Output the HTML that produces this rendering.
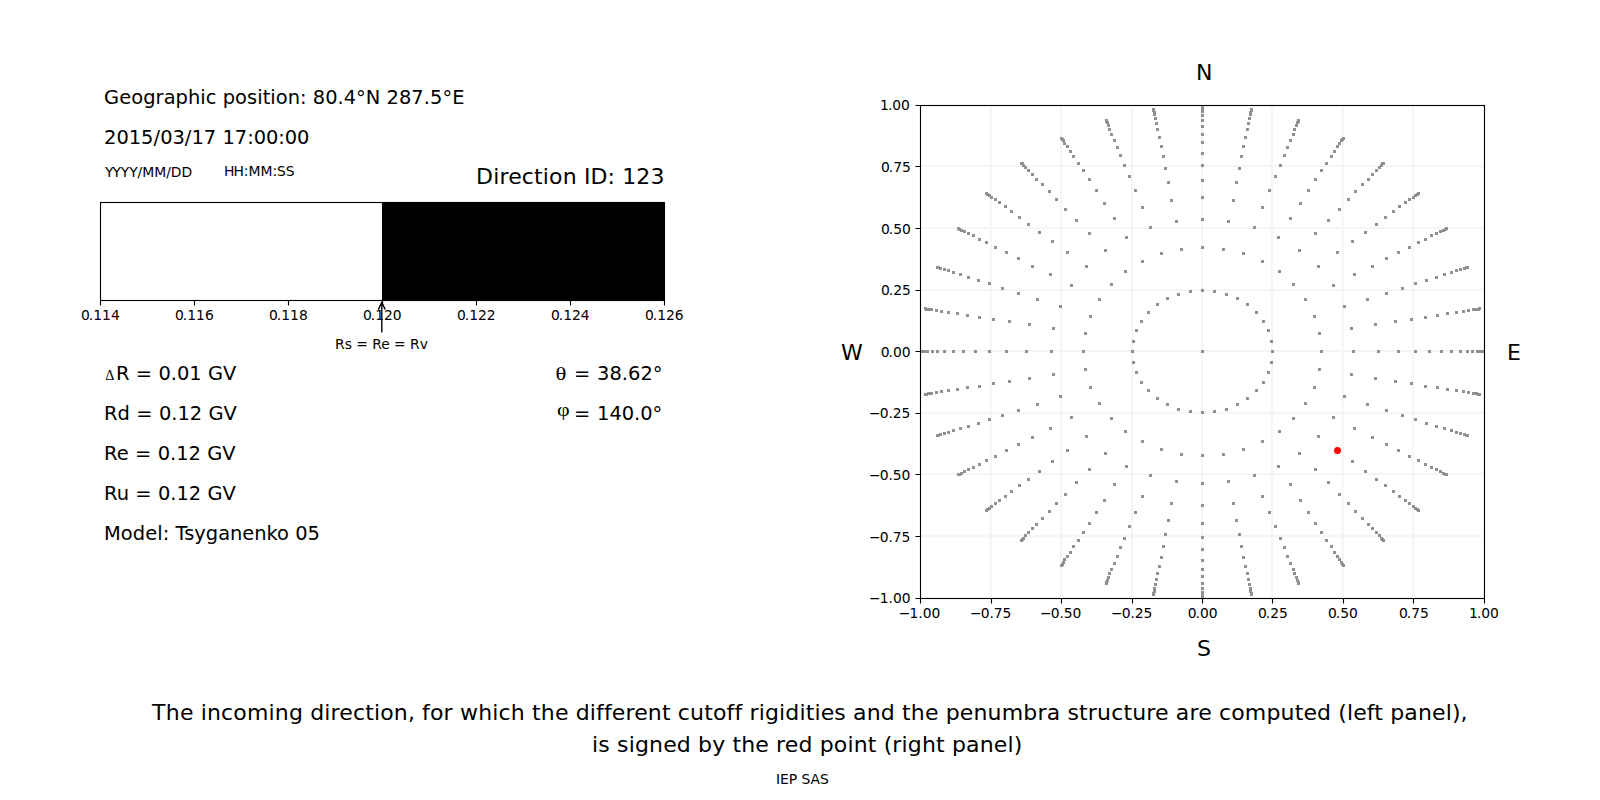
<!DOCTYPE html>
<html lang="en"><head><meta charset="utf-8"><title>Cutoff rigidity – incoming direction</title>
<style>html,body{margin:0;padding:0;background:#fff}body{width:1600px;height:800px;overflow:hidden}svg{display:block}text{font-family:"DejaVu Sans","Liberation Sans",sans-serif;fill:#000;white-space:pre;font-variant-ligatures:none;font-kerning:none}.s10{font-size:13.889px}.s14{font-size:19.444px}.s16{font-size:22px}.gr{font-family:"Liberation Serif","DejaVu Serif",serif}</style></head><body>
<svg width="1600" height="800" viewBox="0 0 1600 800">
<rect width="1600" height="800" fill="#fff"/>
<g id="header">
<text class="s14" y="104 104 104 104 104 104 104 104 104 104 104 104 104 104 104 104 104 104 104 104 104 104 104 104 104 105 104 104 104 104 104 104 104 105 104" x="104 119.125 131.125 143.125 155.5 163.625 175.5 187.875 200.125 205.625 216.375 222.625 235 247 257.125 262.625 270.25 275.75 287.75 300 306.5 312.75 325.125 337.375 343.625 356 365.75 380.25 386.5 398.875 411.25 423.625 429.875 442.375 452.125">Geographic position: 80.4°N 287.5°E</text>
<text class="s14" y="144" x="104 116.375 128.625 141 153.5 160.125 172.375 184.75 191.375 203.75 216.125 222.375 234.75 247.125 253.625 265.875 278.125 284.625 296.875">2015/03/17 17:00:00</text>
<text class="s10" y="177" x="105 112.375 120.75 129.125 137.5 142.125 154.125 166.125 170.75 181.5">YYYY/MM/DD</text>
<text class="s10" y="176" x="224 233.375 243.75 248.375 260.375 272.375 277 285.75">HH:MM:SS</text>
<text class="s16" y="184" x="476 493.125 499.375 508.125 521.75 534 542.75 549 562.625 576.75 583.875 590.375 607.5 615 622.125 636.25 650.375">Direction ID: 123</text>
</g>
<g id="penumbra">
<path fill="#f1f1f1" shape-rendering="crispEdges" d="M100 201h565v1h-565zM101 203h281v1h-281zM101 299h281v1h-281zM100 301h565v1h-565z"/>
<rect x="382" y="202" width="282.5" height="98.5" fill="#000" shape-rendering="crispEdges"/>
<path d="M100.5 202.5H664.5V300.5H100.5Z" fill="none" stroke="#000" stroke-width="1.11"/>
<path d="M100.5 301v4.5M194.5 301v4.5M288.5 301v4.5M382.5 301v4.5M476.5 301v4.5M570.5 301v4.5M664.5 301v4.5" stroke="#000" stroke-width="1.11" fill="none"/>
</g>
<g id="penumbra-labels">
<text class="s10" y="320" x="81 88.75 93.125 102 110.875">0.114</text>
<text class="s10" y="320" x="175 182.75 187.125 196 204.875">0.116</text>
<text class="s10" y="320" x="269 276.75 281.125 290 298.875">0.118</text>
<text class="s10" y="320" x="363 370.75 375.125 384 392.75">0.120</text>
<text class="s10" y="320" x="457 464.75 469.125 478 486.75">0.122</text>
<text class="s10" y="320" x="551 558.75 563.125 572 580.75">0.124</text>
<text class="s10" y="320" x="645 652.75 657.125 666 674.75">0.126</text>
</g>
<g id="arrow" fill="none" stroke="#000" stroke-width="1.39" stroke-linecap="round" stroke-linejoin="round">
<path d="M381.8 331.9V302.4"/><path d="M378.6 309.1L381.8 302.2L385 309.1"/>
</g>
<text class="s10" y="349" x="335 344.625 351.75 356.125 367.75 372.125 381.125 389.625 394 405.625 410 419.625">Rs = Re = Rv</text>
<g id="params">
<text class="gr" transform="translate(105.3 380) scale(1.06 1.13)" font-size="13.4px">Δ</text>
<text class="s14" y="380" x="116 129.5 135.75 152.25 158.5 170.75 177 189.25 201.625 207.875 223">R = 0.01 GV</text>
<text class="s14" y="420" x="104 117.5 129.875 136.125 152.625 158.875 171.125 177.375 189.75 202.125 208.375 223.5">Rd = 0.12 GV</text>
<text class="s14" y="460" x="104 116.625 128.625 134.875 151.375 157.625 169.875 176.125 188.5 200.875 207.125 222.25">Re = 0.12 GV</text>
<text class="s14" y="500" x="104 116.625 128.875 135.125 151.625 157.875 170.125 176.375 188.75 201.125 207.375 222.5">Ru = 0.12 GV</text>
<text class="s14" y="540" x="104 120.75 132.75 145.125 157.125 162.625 169.125 175.375 184.125 194.25 205.75 218.125 230 242.25 254.25 266.5 277 289 295.25 307.5">Model: Tsyganenko 05</text>
<text class="gr" transform="translate(555.5 380) scale(1.17 1)" font-size="19.444px">θ</text>
<text class="s14" y="380 380 380 380 380 380 380 381" x="574 590.75 597 609.375 621.75 628 640.375 652.75">= 38.62°</text>
<text class="gr" transform="translate(556.9 415.8) scale(1.13 1)" font-size="19.444px">φ</text>
<text class="s14" y="420 420 420 420 420 420 420 421" x="574 590.75 597 609.375 621.75 634 640.25 652.5">= 140.0°</text>
</g>
<g id="caption">
<text class="s16" y="720" x="152 165.75 179.875 193.5 200.625 206.875 221 233.25 246.875 268.5 274.75 288.875 303 310.125 324.25 330.5 339.25 352.875 365.125 373.875 380.125 393.75 407.875 414.875 422 429.875 443.5 452.75 459.875 478.125 492.25 498.5 510.75 524.875 532 540.75 554.875 568.5 575.625 589.75 596 603.875 611.75 625.375 634.125 647.75 661.875 670.625 677.75 690 704.125 712.875 726.5 734.375 742.25 749.375 758.625 764.875 779 785.25 799.375 805.625 814.375 820.625 834.25 845.875 853 866.625 880.75 894.875 902 910.75 924.875 938.5 945.625 959.75 973.375 987.5 1001.625 1023.25 1037.375 1046.625 1060.25 1067.375 1079 1087.75 1097 1111.125 1123.375 1132.125 1146.25 1155 1168.625 1175.75 1189.375 1198.125 1211.75 1218.875 1231.125 1244.75 1266.375 1280.5 1294.625 1303.375 1317 1331.125 1338.25 1346.875 1353.125 1366.75 1374.25 1383 1390.125 1404.25 1417.875 1432 1445.625 1451.875 1460.5">The incoming direction, for which the different cutoff rigidities and the penumbra structure are computed (left panel),</text>
<text class="s16" y="752" x="592 598.25 609.875 617 628.625 634.875 649 663.125 676.75 690.875 698 712.125 725.25 732.375 741.125 755.25 768.875 776 784.75 798.375 812.5 819.625 833.75 847.375 853.625 867.75 876.5 883.625 892.25 901.5 907.75 921.875 936 944.75 951.875 966 979.625 993.75 1007.375 1013.625">is signed by the red point (right panel)</text>
<text class="s10" y="784" x="776 780 788.75 797.125 801.5 810.5 820">IEP SAS</text>
</g>
<g id="sky" shape-rendering="crispEdges">
<path fill="#f1f1f1" d="M920 104h565v1h-565zM921 106h563v1h-563zM921 597h563v1h-563zM920 599h565v1h-565z"/>
<path id="grid" fill="#f5f5f5" d="M990 106h2v492h-2zM1060 106h2v492h-2zM1131 106h2v492h-2zM1201 106h2v492h-2zM1271 106h2v492h-2zM1342 106h2v492h-2zM1412 106h2v492h-2zM921 165h563v2h-563zM921 227h563v2h-563zM921 289h563v2h-563zM921 350h563v2h-563zM921 412h563v2h-563zM921 473h563v2h-563zM921 535h563v2h-563z"/>
<clipPath id="c"><rect x="920" y="105" width="565" height="494"/></clipPath>
<path id="directions" clip-path="url(#c)" fill="#909090" d="M1201 350h3v3h-3zM1131 350h3v3h-3zM1132 361h3v3h-3zM1135 371h3v3h-3zM1140 381h3v3h-3zM1147 389h3v3h-3zM1156 397h3v3h-3zM1166 403h3v3h-3zM1177 408h3v3h-3zM1189 410h3v3h-3zM1201 411h3v3h-3zM1213 410h3v3h-3zM1225 408h3v3h-3zM1236 403h3v3h-3zM1246 397h3v3h-3zM1255 389h3v3h-3zM1262 381h3v3h-3zM1267 371h3v3h-3zM1270 361h3v3h-3zM1271 350h3v3h-3zM1270 340h3v3h-3zM1267 329h3v3h-3zM1262 320h3v3h-3zM1255 311h3v3h-3zM1246 303h3v3h-3zM1236 297h3v3h-3zM1225 293h3v3h-3zM1213 290h3v3h-3zM1201 289h3v3h-3zM1189 290h3v3h-3zM1177 293h3v3h-3zM1166 297h3v3h-3zM1156 303h3v3h-3zM1147 311h3v3h-3zM1140 320h3v3h-3zM1135 329h3v3h-3zM1132 340h3v3h-3zM1082 350h3v3h-3zM1084 368h3v3h-3zM1089 386h3v3h-3zM1098 402h3v3h-3zM1110 417h3v3h-3zM1124 430h3v3h-3zM1141 440h3v3h-3zM1160 448h3v3h-3zM1180 453h3v3h-3zM1201 454h3v3h-3zM1222 453h3v3h-3zM1242 448h3v3h-3zM1261 440h3v3h-3zM1278 430h3v3h-3zM1292 417h3v3h-3zM1304 402h3v3h-3zM1313 386h3v3h-3zM1318 368h3v3h-3zM1320 350h3v3h-3zM1318 332h3v3h-3zM1313 315h3v3h-3zM1304 298h3v3h-3zM1292 283h3v3h-3zM1278 270h3v3h-3zM1261 260h3v3h-3zM1242 252h3v3h-3zM1222 248h3v3h-3zM1201 246h3v3h-3zM1180 248h3v3h-3zM1160 252h3v3h-3zM1141 260h3v3h-3zM1124 270h3v3h-3zM1110 283h3v3h-3zM1098 298h3v3h-3zM1089 315h3v3h-3zM1084 332h3v3h-3zM1050 350h3v3h-3zM1052 373h3v3h-3zM1059 395h3v3h-3zM1070 416h3v3h-3zM1085 435h3v3h-3zM1104 452h3v3h-3zM1125 465h3v3h-3zM1149 474h3v3h-3zM1175 480h3v3h-3zM1201 482h3v3h-3zM1227 480h3v3h-3zM1253 474h3v3h-3zM1277 465h3v3h-3zM1298 452h3v3h-3zM1317 435h3v3h-3zM1332 416h3v3h-3zM1343 395h3v3h-3zM1350 373h3v3h-3zM1352 350h3v3h-3zM1350 327h3v3h-3zM1343 305h3v3h-3zM1332 284h3v3h-3zM1317 265h3v3h-3zM1298 249h3v3h-3zM1277 236h3v3h-3zM1253 226h3v3h-3zM1227 220h3v3h-3zM1201 218h3v3h-3zM1175 220h3v3h-3zM1149 226h3v3h-3zM1125 236h3v3h-3zM1104 249h3v3h-3zM1085 265h3v3h-3zM1070 284h3v3h-3zM1059 305h3v3h-3zM1052 327h3v3h-3zM1025 350h3v3h-3zM1028 377h3v3h-3zM1036 403h3v3h-3zM1049 427h3v3h-3zM1066 449h3v3h-3zM1088 468h3v3h-3zM1113 483h3v3h-3zM1141 495h3v3h-3zM1170 502h3v3h-3zM1201 504h3v3h-3zM1232 502h3v3h-3zM1261 495h3v3h-3zM1289 483h3v3h-3zM1314 468h3v3h-3zM1336 449h3v3h-3zM1353 427h3v3h-3zM1366 403h3v3h-3zM1374 377h3v3h-3zM1377 350h3v3h-3zM1374 323h3v3h-3zM1366 298h3v3h-3zM1353 273h3v3h-3zM1336 251h3v3h-3zM1314 232h3v3h-3zM1289 217h3v3h-3zM1261 206h3v3h-3zM1232 199h3v3h-3zM1201 196h3v3h-3zM1170 199h3v3h-3zM1141 206h3v3h-3zM1113 217h3v3h-3zM1088 232h3v3h-3zM1066 251h3v3h-3zM1049 273h3v3h-3zM1036 298h3v3h-3zM1028 323h3v3h-3zM1005 350h3v3h-3zM1008 380h3v3h-3zM1017 409h3v3h-3zM1031 436h3v3h-3zM1051 460h3v3h-3zM1075 481h3v3h-3zM1103 499h3v3h-3zM1134 511h3v3h-3zM1167 519h3v3h-3zM1201 522h3v3h-3zM1235 519h3v3h-3zM1268 511h3v3h-3zM1299 499h3v3h-3zM1327 481h3v3h-3zM1351 460h3v3h-3zM1371 436h3v3h-3zM1385 409h3v3h-3zM1394 380h3v3h-3zM1397 350h3v3h-3zM1394 320h3v3h-3zM1385 292h3v3h-3zM1371 265h3v3h-3zM1351 240h3v3h-3zM1327 219h3v3h-3zM1299 202h3v3h-3zM1268 189h3v3h-3zM1235 181h3v3h-3zM1201 179h3v3h-3zM1167 181h3v3h-3zM1134 189h3v3h-3zM1103 202h3v3h-3zM1075 219h3v3h-3zM1051 240h3v3h-3zM1031 265h3v3h-3zM1017 292h3v3h-3zM1008 320h3v3h-3zM988 350h3v3h-3zM992 382h3v3h-3zM1001 414h3v3h-3zM1017 443h3v3h-3zM1038 470h3v3h-3zM1064 493h3v3h-3zM1095 511h3v3h-3zM1128 525h3v3h-3zM1164 533h3v3h-3zM1201 536h3v3h-3zM1238 533h3v3h-3zM1274 525h3v3h-3zM1307 511h3v3h-3zM1338 493h3v3h-3zM1364 470h3v3h-3zM1385 443h3v3h-3zM1401 414h3v3h-3zM1410 382h3v3h-3zM1414 350h3v3h-3zM1410 318h3v3h-3zM1401 287h3v3h-3zM1385 257h3v3h-3zM1364 231h3v3h-3zM1338 208h3v3h-3zM1307 189h3v3h-3zM1274 175h3v3h-3zM1238 167h3v3h-3zM1201 164h3v3h-3zM1164 167h3v3h-3zM1128 175h3v3h-3zM1095 189h3v3h-3zM1064 208h3v3h-3zM1038 231h3v3h-3zM1017 257h3v3h-3zM1001 287h3v3h-3zM992 318h3v3h-3zM974 350h3v3h-3zM978 385h3v3h-3zM988 418h3v3h-3zM1005 449h3v3h-3zM1027 478h3v3h-3zM1055 502h3v3h-3zM1088 522h3v3h-3zM1123 537h3v3h-3zM1162 545h3v3h-3zM1201 548h3v3h-3zM1240 545h3v3h-3zM1279 537h3v3h-3zM1314 522h3v3h-3zM1347 502h3v3h-3zM1375 478h3v3h-3zM1397 449h3v3h-3zM1414 418h3v3h-3zM1424 385h3v3h-3zM1428 350h3v3h-3zM1424 316h3v3h-3zM1414 282h3v3h-3zM1397 251h3v3h-3zM1375 223h3v3h-3zM1347 198h3v3h-3zM1314 178h3v3h-3zM1279 164h3v3h-3zM1240 155h3v3h-3zM1201 152h3v3h-3zM1162 155h3v3h-3zM1123 164h3v3h-3zM1088 178h3v3h-3zM1055 198h3v3h-3zM1027 223h3v3h-3zM1005 251h3v3h-3zM988 282h3v3h-3zM978 316h3v3h-3zM962 350h3v3h-3zM966 386h3v3h-3zM977 422h3v3h-3zM994 455h3v3h-3zM1018 484h3v3h-3zM1048 510h3v3h-3zM1082 531h3v3h-3zM1119 546h3v3h-3zM1160 556h3v3h-3zM1201 559h3v3h-3zM1242 556h3v3h-3zM1283 546h3v3h-3zM1320 531h3v3h-3zM1354 510h3v3h-3zM1384 484h3v3h-3zM1408 455h3v3h-3zM1425 422h3v3h-3zM1436 386h3v3h-3zM1440 350h3v3h-3zM1436 314h3v3h-3zM1425 279h3v3h-3zM1408 246h3v3h-3zM1384 216h3v3h-3zM1354 190h3v3h-3zM1320 169h3v3h-3zM1283 154h3v3h-3zM1242 145h3v3h-3zM1201 141h3v3h-3zM1160 145h3v3h-3zM1119 154h3v3h-3zM1082 169h3v3h-3zM1048 190h3v3h-3zM1018 216h3v3h-3zM994 246h3v3h-3zM977 279h3v3h-3zM966 314h3v3h-3zM952 350h3v3h-3zM956 388h3v3h-3zM967 425h3v3h-3zM985 459h3v3h-3zM1010 490h3v3h-3zM1041 517h3v3h-3zM1077 539h3v3h-3zM1116 555h3v3h-3zM1158 565h3v3h-3zM1201 568h3v3h-3zM1244 565h3v3h-3zM1286 555h3v3h-3zM1325 539h3v3h-3zM1361 517h3v3h-3zM1392 490h3v3h-3zM1417 459h3v3h-3zM1435 425h3v3h-3zM1446 388h3v3h-3zM1450 350h3v3h-3zM1446 312h3v3h-3zM1435 276h3v3h-3zM1417 241h3v3h-3zM1392 210h3v3h-3zM1361 183h3v3h-3zM1325 162h3v3h-3zM1286 146h3v3h-3zM1244 136h3v3h-3zM1201 133h3v3h-3zM1158 136h3v3h-3zM1116 146h3v3h-3zM1077 162h3v3h-3zM1041 183h3v3h-3zM1010 210h3v3h-3zM985 241h3v3h-3zM967 276h3v3h-3zM956 312h3v3h-3zM943 350h3v3h-3zM947 389h3v3h-3zM959 427h3v3h-3zM978 463h3v3h-3zM1004 495h3v3h-3zM1035 523h3v3h-3zM1072 545h3v3h-3zM1113 562h3v3h-3zM1156 572h3v3h-3zM1201 575h3v3h-3zM1246 572h3v3h-3zM1289 562h3v3h-3zM1330 545h3v3h-3zM1367 523h3v3h-3zM1398 495h3v3h-3zM1424 463h3v3h-3zM1443 427h3v3h-3zM1455 389h3v3h-3zM1459 350h3v3h-3zM1455 311h3v3h-3zM1443 273h3v3h-3zM1424 238h3v3h-3zM1398 205h3v3h-3zM1367 178h3v3h-3zM1330 155h3v3h-3zM1289 139h3v3h-3zM1246 128h3v3h-3zM1201 125h3v3h-3zM1156 128h3v3h-3zM1113 139h3v3h-3zM1072 155h3v3h-3zM1035 178h3v3h-3zM1004 205h3v3h-3zM978 238h3v3h-3zM959 273h3v3h-3zM947 311h3v3h-3zM936 350h3v3h-3zM940 390h3v3h-3zM952 429h3v3h-3zM972 466h3v3h-3zM998 499h3v3h-3zM1031 527h3v3h-3zM1069 551h3v3h-3zM1110 568h3v3h-3zM1155 578h3v3h-3zM1201 582h3v3h-3zM1247 578h3v3h-3zM1292 568h3v3h-3zM1333 551h3v3h-3zM1371 527h3v3h-3zM1404 499h3v3h-3zM1430 466h3v3h-3zM1450 429h3v3h-3zM1462 390h3v3h-3zM1466 350h3v3h-3zM1462 310h3v3h-3zM1450 271h3v3h-3zM1430 234h3v3h-3zM1404 201h3v3h-3zM1371 173h3v3h-3zM1333 150h3v3h-3zM1292 133h3v3h-3zM1247 122h3v3h-3zM1201 119h3v3h-3zM1155 122h3v3h-3zM1110 133h3v3h-3zM1069 150h3v3h-3zM1031 173h3v3h-3zM998 201h3v3h-3zM972 234h3v3h-3zM952 271h3v3h-3zM940 310h3v3h-3zM931 350h3v3h-3zM935 391h3v3h-3zM947 431h3v3h-3zM967 468h3v3h-3zM994 502h3v3h-3zM1027 531h3v3h-3zM1066 555h3v3h-3zM1108 572h3v3h-3zM1154 583h3v3h-3zM1201 587h3v3h-3zM1248 583h3v3h-3zM1293 572h3v3h-3zM1336 555h3v3h-3zM1375 531h3v3h-3zM1408 502h3v3h-3zM1435 468h3v3h-3zM1455 431h3v3h-3zM1467 391h3v3h-3zM1471 350h3v3h-3zM1467 309h3v3h-3zM1455 269h3v3h-3zM1435 232h3v3h-3zM1408 198h3v3h-3zM1375 169h3v3h-3zM1336 145h3v3h-3zM1293 128h3v3h-3zM1248 117h3v3h-3zM1201 114h3v3h-3zM1154 117h3v3h-3zM1108 128h3v3h-3zM1066 145h3v3h-3zM1027 169h3v3h-3zM994 198h3v3h-3zM967 232h3v3h-3zM947 269h3v3h-3zM935 309h3v3h-3zM926 350h3v3h-3zM930 392h3v3h-3zM943 432h3v3h-3zM963 470h3v3h-3zM990 505h3v3h-3zM1024 534h3v3h-3zM1063 558h3v3h-3zM1107 576h3v3h-3zM1153 587h3v3h-3zM1201 591h3v3h-3zM1249 587h3v3h-3zM1295 576h3v3h-3zM1338 558h3v3h-3zM1378 534h3v3h-3zM1412 505h3v3h-3zM1439 470h3v3h-3zM1459 432h3v3h-3zM1472 392h3v3h-3zM1476 350h3v3h-3zM1472 308h3v3h-3zM1459 268h3v3h-3zM1439 230h3v3h-3zM1412 196h3v3h-3zM1378 166h3v3h-3zM1338 142h3v3h-3zM1295 124h3v3h-3zM1249 113h3v3h-3zM1201 110h3v3h-3zM1153 113h3v3h-3zM1107 124h3v3h-3zM1063 142h3v3h-3zM1024 166h3v3h-3zM990 196h3v3h-3zM963 230h3v3h-3zM943 268h3v3h-3zM930 308h3v3h-3zM923 350h3v3h-3zM927 392h3v3h-3zM939 433h3v3h-3zM960 472h3v3h-3zM988 507h3v3h-3zM1022 537h3v3h-3zM1062 561h3v3h-3zM1106 579h3v3h-3zM1153 590h3v3h-3zM1201 594h3v3h-3zM1249 590h3v3h-3zM1296 579h3v3h-3zM1340 561h3v3h-3zM1380 537h3v3h-3zM1414 507h3v3h-3zM1442 472h3v3h-3zM1463 433h3v3h-3zM1475 392h3v3h-3zM1479 350h3v3h-3zM1475 308h3v3h-3zM1463 267h3v3h-3zM1442 229h3v3h-3zM1414 194h3v3h-3zM1380 164h3v3h-3zM1340 139h3v3h-3zM1296 121h3v3h-3zM1249 111h3v3h-3zM1201 107h3v3h-3zM1153 111h3v3h-3zM1106 121h3v3h-3zM1062 139h3v3h-3zM1022 164h3v3h-3zM988 194h3v3h-3zM960 229h3v3h-3zM939 267h3v3h-3zM927 308h3v3h-3zM920 350h3v3h-3zM925 393h3v3h-3zM937 434h3v3h-3zM958 473h3v3h-3zM986 508h3v3h-3zM1021 538h3v3h-3zM1061 563h3v3h-3zM1105 581h3v3h-3zM1152 592h3v3h-3zM1201 596h3v3h-3zM1250 592h3v3h-3zM1297 581h3v3h-3zM1341 563h3v3h-3zM1381 538h3v3h-3zM1416 508h3v3h-3zM1444 473h3v3h-3zM1465 434h3v3h-3zM1477 393h3v3h-3zM1482 350h3v3h-3zM1477 308h3v3h-3zM1465 266h3v3h-3zM1444 228h3v3h-3zM1416 193h3v3h-3zM1381 162h3v3h-3zM1341 138h3v3h-3zM1297 120h3v3h-3zM1250 109h3v3h-3zM1201 105h3v3h-3zM1152 109h3v3h-3zM1105 120h3v3h-3zM1061 138h3v3h-3zM1021 162h3v3h-3zM986 193h3v3h-3zM958 228h3v3h-3zM937 266h3v3h-3zM925 308h3v3h-3zM919 350h3v3h-3zM924 393h3v3h-3zM936 434h3v3h-3zM957 473h3v3h-3zM985 509h3v3h-3zM1020 539h3v3h-3zM1060 564h3v3h-3zM1105 582h3v3h-3zM1152 593h3v3h-3zM1201 597h3v3h-3zM1250 593h3v3h-3zM1297 582h3v3h-3zM1342 564h3v3h-3zM1382 539h3v3h-3zM1417 509h3v3h-3zM1445 473h3v3h-3zM1466 434h3v3h-3zM1478 393h3v3h-3zM1483 350h3v3h-3zM1478 307h3v3h-3zM1466 266h3v3h-3zM1445 227h3v3h-3zM1417 192h3v3h-3zM1382 162h3v3h-3zM1342 137h3v3h-3zM1297 119h3v3h-3zM1250 108h3v3h-3zM1201 104h3v3h-3zM1152 108h3v3h-3zM1105 119h3v3h-3zM1060 137h3v3h-3zM1020 162h3v3h-3zM985 192h3v3h-3zM957 227h3v3h-3zM936 266h3v3h-3zM924 307h3v3h-3z"/>
</g>
<circle id="selected" cx="1337.5" cy="450.5" r="3.5" fill="#f00"/>
<g id="frame" fill="none" stroke="#000" stroke-width="1.11">
<path d="M920.5 105.5H1484.5V598.5H920.5Z"/>
<path d="M920.5 599v4.5M991.5 599v4.5M1061.5 599v4.5M1132.5 599v4.5M1202.5 599v4.5M1272.5 599v4.5M1343.5 599v4.5M1413.5 599v4.5M1484.5 599v4.5M920 105.5h-4.5M920 166.5h-4.5M920 228.5h-4.5M920 290.5h-4.5M920 351.5h-4.5M920 413.5h-4.5M920 474.5h-4.5M920 536.5h-4.5M920 598.5h-4.5"/>
</g>
<g id="sky-labels">
<text class="s10" y="618" x="898.75 909.375 918.25 922.625 931.375">−1.00</text>
<text class="s10" y="618" x="970 980.625 989.375 993.75 1002.5">−0.75</text>
<text class="s10" y="618" x="1040 1050.625 1059.375 1063.75 1072.5">−0.50</text>
<text class="s10" y="618" x="1111 1121.625 1130.375 1134.75 1143.5">−0.25</text>
<text class="s10" y="618" x="1187.75 1195.5 1199.875 1208.625">0.00</text>
<text class="s10" y="618" x="1258 1265.75 1270.125 1278.875">0.25</text>
<text class="s10" y="618" x="1328 1335.75 1340.125 1348.875">0.50</text>
<text class="s10" y="618" x="1399 1406.75 1411.125 1419.875">0.75</text>
<text class="s10" y="618" x="1469 1476.875 1481.25 1490">1.00</text>
<text class="s10" y="110" x="880 887.875 892.25 901">1.00</text>
<text class="s10" y="172" x="881 888.75 893.125 901.875">0.75</text>
<text class="s10" y="234" x="881 888.75 893.125 901.875">0.50</text>
<text class="s10" y="295" x="881 888.75 893.125 901.875">0.25</text>
<text class="s10" y="357" x="880.75 888.5 892.875 901.625">0.00</text>
<text class="s10" y="418" x="869 879.625 888.375 892.75 901.5">−0.25</text>
<text class="s10" y="480" x="869 879.625 888.375 892.75 901.5">−0.50</text>
<text class="s10" y="542" x="869 879.625 888.375 892.75 901.5">−0.75</text>
<text class="s10" y="603" x="869 879.625 888.5 892.875 901.625">−1.00</text>
<text class="s16" y="80" x="1196">N</text>
<text class="s16" y="656" x="1197">S</text>
<text class="s16" y="360" x="841">W</text>
<text class="s16" y="360" x="1507">E</text>
</g>
</svg></body></html>
